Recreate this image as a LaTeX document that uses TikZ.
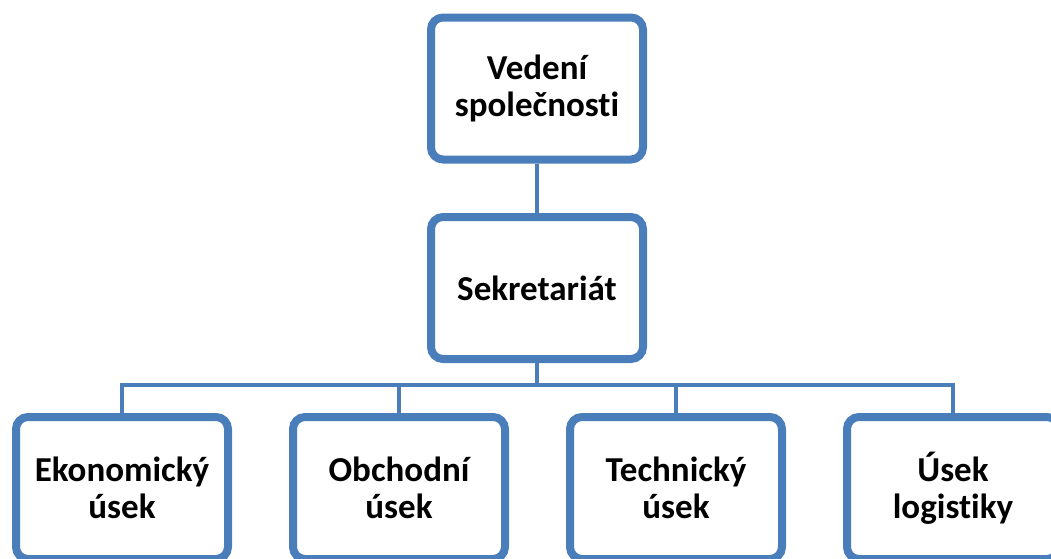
\documentclass[tikz,border=0pt]{standalone}
\usepackage{fontspec}
\setmainfont{Carlito}[RawFeature={-liga;-clig;-calt;-dlig}]
\usetikzlibrary{shadows,backgrounds}
\definecolor{boxblue}{RGB}{74,126,187}
\tikzset{
  orgbox/.style={draw=boxblue, line width=8pt, fill=white, rounded corners=12pt,
    minimum width=212pt, minimum height=142pt, align=center,
    font=\fontsize{35}{37}\selectfont\bfseries, text=black,
    drop shadow={opacity=0.25, shadow xshift=2pt, shadow yshift=-3pt}},
  link/.style={draw=boxblue, line width=4.5pt}
}
\begin{document}
\begin{tikzpicture}[x=1pt,y=-1pt]
\useasboundingbox (0,0) rectangle (1051,558);
\clip (0,0) rectangle (1051,558);
\node[orgbox] (ved) at (537,88.5) {Vedení\\společnosti};
\node[orgbox] (sek) at (537,288) {Sekretariát};
\node[orgbox] (eko) at (122,488) {Ekonomický\\úsek};
\node[orgbox] (obc) at (399,488) {Obchodní\\úsek};
\node[orgbox] (tec) at (676,488) {Technický\\úsek};
\node[orgbox] (log) at (953,488) {Úsek\\logistiky};
\coordinate (bus) at (537,385);
\begin{pgfonlayer}{background}
\draw[link] (ved.south) -- (sek.north);
\draw[link] (sek.south) -- (bus);
\draw[link] (eko.north) |- (bus);
\draw[link] (obc.north) |- (bus);
\draw[link] (tec.north) |- (bus);
\draw[link] (log.north) |- (bus);
\end{pgfonlayer}
\end{tikzpicture}
\end{document}
